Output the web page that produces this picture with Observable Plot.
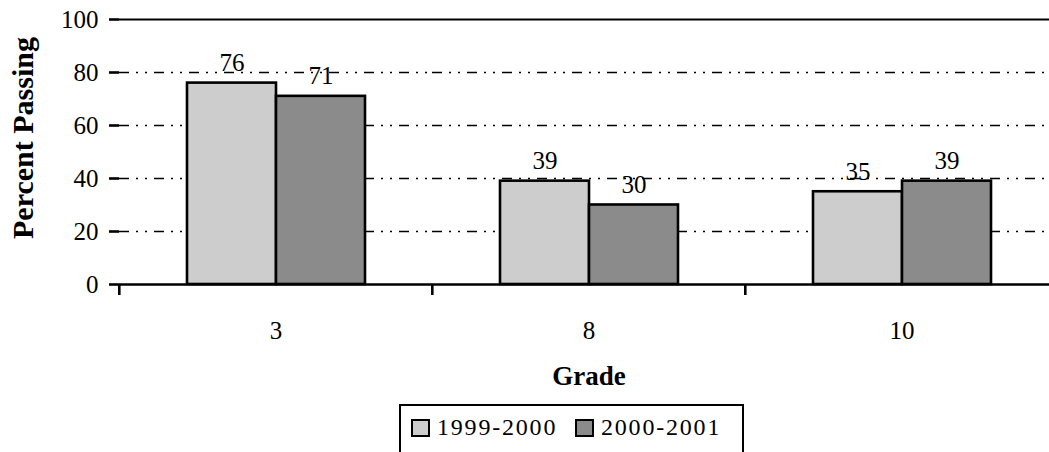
<!DOCTYPE html>
<html>
<head>
<meta charset="utf-8">
<script src="https://cdn.jsdelivr.net/npm/d3@7"></script>
<script src="https://cdn.jsdelivr.net/npm/@observablehq/plot@0.6"></script>
<style>
  html, body { margin: 0; padding: 0; background: white; overflow: hidden; }
  #wrap { position: relative; width: 1049px; height: 452px; overflow: hidden; font-family: "Liberation Serif", "Times New Roman", serif; }
  #legend { position: absolute; left: 399px; top: 404px; width: 345px; height: 60px; border: 2px solid black; box-sizing: border-box; background: white; }
  .item { position: absolute; top: 8px; display: flex; align-items: center; font-size: 24px; letter-spacing: 1.8px; color: black; }
  .sw { width: 15px; height: 14px; border: 2px solid black; margin-right: 7px; }
</style>
</head>
<body>
<div id="wrap">
  <div id="chart"></div>
  <div id="legend"></div>
</div>
<script>
const grades = ["3", "8", "10"];
const years = ["1999-2000", "2000-2001"];
const values1999 = [76, 39, 35];
const values2000 = [71, 30, 39];
const yTicks = [0, 20, 40, 60, 80, 100];
const gridTicks = [20, 40, 60, 80];
const colors = ["#cdcdcd", "#8b8b8b"];

const data = [];
grades.forEach((g, i) => {
  data.push({grade: g, year: years[0], value: values1999[i]});
  data.push({grade: g, year: years[1], value: values2000[i]});
});

const chart = Plot.plot({
  width: 1049,
  height: 400,
  marginLeft: 118,
  marginRight: 0,
  marginTop: 19,
  marginBottom: 116,
  style: {fontFamily: "'Liberation Serif', 'Times New Roman', serif", fontSize: "25px", color: "black", background: "white"},
  fx: {domain: grades, range: [118, 1058], padding: 0, label: null},
  x: {domain: years, paddingInner: 0, paddingOuter: 0.75, axis: null},
  y: {domain: [0, 100], label: null},
  color: {domain: years, range: colors},
  marks: [
    Plot.gridY(gridTicks, {stroke: "black", strokeOpacity: 1, strokeWidth: 1.5, strokeDasharray: "10,7,2,7,2,7"}),
    Plot.ruleY([100], {stroke: "black", strokeWidth: 2}),
    Plot.barY(data, {fx: "grade", x: "year", y: "value", fill: "year", stroke: "black", strokeWidth: 2.6}),
    Plot.text(data, {fx: "grade", x: "year", y: "value", text: d => String(d.value), dy: -12, lineAnchor: "bottom", fontSize: 25, fill: "black"}),
    Plot.ruleY([0], {stroke: "black", strokeWidth: 2.6}),
    Plot.axisY({ticks: yTicks, tickSize: 10, tickPadding: 11, tickFormat: d => String(d), line: true, strokeWidth: 2.6, fontSize: 25, label: "Percent Passing", labelArrow: "none", labelAnchor: "center", labelOffset: 108}),
    Plot.axisFx({anchor: "bottom", tickSize: 11, strokeWidth: 2.6, dx: -156.7, tickFormat: () => "", label: null}),
    Plot.axisFx({anchor: "bottom", tickSize: 0, tickPadding: 37, fontSize: 25, label: "Grade", labelArrow: "none", labelAnchor: "center", labelOffset: 100})
  ]
});

document.getElementById("chart").appendChild(chart);

// bold axis titles, no arrows
d3.select(chart).selectAll('[aria-label="fx-axis label"] text')
  .attr("font-weight", "bold").attr("font-size", 27)
  .each(function() { this.textContent = this.textContent.replace(/[\u2191\u2192\u2193\u2190]/g, "").trim(); });
d3.select(chart).selectAll('[aria-label="y-axis label"] text')
  .attr("font-weight", "bold").attr("font-size", 30)
  .each(function() {
    this.textContent = this.textContent.replace(/[\u2191\u2192\u2193\u2190]/g, "").trim();
    const t = this.getAttribute("transform") || "";
    this.setAttribute("transform", t + " translate(14,0)");
  });

// legend
const legend = document.getElementById("legend");
const lefts = [10, 174];
years.forEach((y, i) => {
  const it = document.createElement("div");
  it.className = "item";
  it.style.left = lefts[i] + "px";
  const sw = document.createElement("div");
  sw.className = "sw";
  sw.style.background = colors[i];
  const t = document.createElement("span");
  t.textContent = y;
  it.appendChild(sw);
  it.appendChild(t);
  legend.appendChild(it);
});
</script>
</body>
</html>
